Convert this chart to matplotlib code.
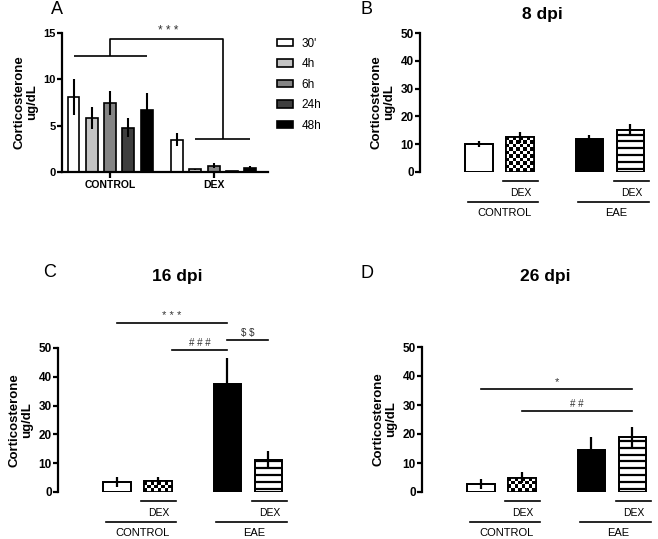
import numpy as np
import matplotlib
matplotlib.use("Agg")
import matplotlib.pyplot as plt
from matplotlib.transforms import blended_transform_factory

plt.rcParams['font.family'] = ['Liberation Sans', 'DejaVu Sans']

W, H = 658, 539

# ---- panel A data ----
timepoints = ["30'", "4h", "6h", "24h", "48h"]
tp_colors = ["white", "#c4c4c4", "#858585", "#3e3e3e", "black"]
a_groups = ["CONTROL", "DEX"]
a_control = [8.1, 5.8, 7.4, 4.8, 6.7]
a_control_err = [1.9, 1.2, 1.3, 1.0, 1.8]
a_dex = [3.5, 0.3, 0.7, 0.1, 0.45]
a_dex_err = [0.7, 0.05, 0.3, 0.03, 0.15]

# ---- panels B-D data (CONTROL, CONTROL+DEX, EAE, EAE+DEX) ----
dpi_titles = ["8 dpi", "16 dpi", "26 dpi"]
means_8 = [10.0, 12.5, 11.8, 15.0]
err_8 = [1.0, 2.0, 1.4, 2.2]
means_16 = [3.5, 3.8, 37.5, 11.2]
err_16 = [1.8, 1.3, 9.0, 3.0]
means_26 = [2.8, 5.0, 14.5, 19.0]
err_26 = [1.7, 1.8, 4.3, 3.5]

# significance: (from bar, to bar, height, label)
sig_16 = [(0, 2, 58.7, "* * *"), (1.2, 2, 49.3, "# # #"), (2, 3, 52.8, r"\$ \$")]
sig_26 = [(0, 3, 35.5, "*"), (1, 3, 28.0, "# #")]

fig = plt.figure(figsize=(W / 100, H / 100), dpi=100)


def px_axes(x0, y0, x1, y1):
    return fig.add_axes([x0 / W, 1 - y1 / H, (x1 - x0) / W, (y1 - y0) / H])


def style_left(ax, tick_size):
    for s in ["top", "right"]:
        ax.spines[s].set_visible(False)
    ax.spines["left"].set_linewidth(1.6)
    ax.tick_params(axis="y", width=1.6, length=3.5, labelsize=tick_size, pad=1)
    for t in ax.get_yticklabels():
        t.set_fontweight("bold")
    ax.set_ylabel("Corticosterone\nug/dL", fontsize=9.5, fontweight="bold",
                  labelpad=4, linespacing=1.0)


def sig_size(lab):
    return 8 if "*" in lab else 7


# ================= panel A =================
axA = px_axes(62, 33, 268, 172)
ctrl_x = np.arange(5) * 1.0
dex_x = ctrl_x + 5.66
for i in range(5):
    axA.bar(ctrl_x[i], a_control[i], width=0.65, color=tp_colors[i],
            edgecolor="black", linewidth=1.2, label=timepoints[i], zorder=2)
    axA.bar(dex_x[i], a_dex[i], width=0.65, color=tp_colors[i],
            edgecolor="black", linewidth=1.2, zorder=2)
axA.errorbar(ctrl_x, a_control, yerr=a_control_err, fmt="none",
             ecolor="black", elinewidth=1.5, capsize=0, zorder=3)
axA.errorbar(dex_x, a_dex, yerr=a_dex_err, fmt="none",
             ecolor="black", elinewidth=1.5, capsize=0, zorder=3)
axA.set_xlim(-0.63, 10.63)
axA.set_ylim(0, 15)
axA.set_yticks([0, 5, 10, 15])
axA.set_xticks([ctrl_x.mean(), dex_x.mean()])
axA.set_xticklabels(a_groups, fontsize=7.5, fontweight="bold")
axA.spines["bottom"].set_linewidth(1.6)
axA.tick_params(axis="x", width=1.6, length=4, pad=2)
style_left(axA, 8)

# bracket control vs dex
top = 14.4
c_mid = ctrl_x.mean()
d_mid = (dex_x[1] + dex_x[4]) / 2
kw = dict(color="black", lw=1.2, clip_on=False, solid_capstyle="butt")
axA.plot([ctrl_x[0], ctrl_x[4]], [12.5, 12.5], **kw)
axA.plot([c_mid, c_mid, d_mid, d_mid], [12.5, top, top, 3.6], **kw)
axA.plot([dex_x[1], dex_x[4]], [3.6, 3.6], **kw)
axA.text(5.2, top + 0.2, "* * *", ha="center", va="bottom", fontsize=8.5,
         color="#333333")

axA.legend(loc="upper left", bbox_to_anchor=(1.02, 1.0), frameon=False,
           fontsize=8.5, handlelength=1.4, handleheight=0.55,
           labelspacing=0.72, handletextpad=0.7, borderaxespad=0)


# ================= panels B-D =================
pos = np.array([1.0, 2.0, 3.7, 4.7])


def checker_bar(ax, bar):
    x0, y0 = bar.get_x(), bar.get_y()
    w, h = bar.get_width(), bar.get_height()
    p0 = ax.transData.transform((x0, y0))
    p1 = ax.transData.transform((x0 + w, y0 + h))
    nx = max(1, int(round((p1[0] - p0[0]) / 3.4)))
    ny = max(1, int(round((p1[1] - p0[1]) / 3.4)))
    board = (np.add.outer(np.arange(ny), np.arange(nx)) % 2).astype(float)
    im = ax.imshow(board, cmap="gray", extent=(x0, x0 + w, y0, y0 + h),
                   aspect="auto", interpolation="nearest", zorder=3)
    im.set_clip_path(bar)


def striped_bar(ax, bar, h_px):
    x0, w, h = bar.get_x(), bar.get_width(), bar.get_height()
    gap = 6.8 * 50 / h_px
    for y in np.arange(gap * 0.5, h, gap):
        ax.plot([x0, x0 + w], [y, y], color="black", lw=1.6, zorder=3,
                solid_capstyle="butt")


def condition_panel(box, means, errs, title, title_xy, sigs):
    x0, y0, x1, y1 = box
    h_px = y1 - y0
    ax = px_axes(*box)
    ax.set_xlim(-0.43, 5.2)
    ax.set_ylim(0, 50)
    fills = ["white", "white", "black", "white"]
    bars = ax.bar(pos, means, width=0.68, color=fills, edgecolor="black",
                  linewidth=1.3, zorder=2)
    checker_bar(ax, bars[1])
    striped_bar(ax, bars[3], h_px)
    # edges on top of the patterns
    ax.bar(pos, means, width=0.68, color="none", edgecolor="black",
           linewidth=1.3, zorder=4)
    ax.errorbar(pos, means, yerr=errs, fmt="none", ecolor="black",
                elinewidth=1.6, capsize=0, zorder=5)
    ax.set_xlim(-0.43, 5.2)
    ax.set_ylim(0, 50)
    ax.spines["bottom"].set_visible(False)
    ax.set_xticks([])
    ax.set_yticks([0, 10, 20, 30, 40, 50])
    style_left(ax, 8.5)

    tr = blended_transform_factory(ax.transData, ax.transAxes)
    lk = dict(color="black", lw=1.2, clip_on=False, transform=tr)
    d1 = -9 / h_px
    t1 = -21 / h_px
    d2 = -30 / h_px
    t2 = -41 / h_px
    for b in (1, 3):
        ax.plot([pos[b] - 0.4, pos[b] + 0.45], [d1, d1], **lk)
        ax.text(pos[b] + 0.02, t1, "DEX", transform=tr, ha="center",
                va="center", fontsize=7.5)
    for (a, b), name in zip([(0, 1), (2, 3)], ["CONTROL", "EAE"]):
        ax.plot([pos[a] - 0.27, pos[b] + 0.45], [d2, d2], **lk)
        ax.text((pos[a] - 0.27 + pos[b] + 0.45) / 2 + 0.05, t2, name,
                transform=tr, ha="center", va="center", fontsize=8)

    for a, b, y, lab in sigs:
        xa = np.interp(a, [0, 1, 2, 3], pos)
        xb = np.interp(b, [0, 1, 2, 3], pos)
        ax.plot([xa, xb], [y, y], color="black", lw=1.2, clip_on=False)
        ax.text((xa + xb) / 2, y + 0.6, lab, ha="center", va="bottom",
                fontsize=sig_size(lab), color="#333333", clip_on=False)

    fig.text(title_xy[0] / W, 1 - title_xy[1] / H, title, ha="center",
             va="center", fontsize=12.5, fontweight="bold")
    return ax


condition_panel((420, 33, 651, 172), means_8, err_8, dpi_titles[0],
                (542, 14), [])
condition_panel((58, 348, 289, 492), means_16, err_16, dpi_titles[1],
                (177, 277), sig_16)
condition_panel((422, 347, 653, 492), means_26, err_26, dpi_titles[2],
                (545, 277), sig_26)

for lab, x, y in [("A", 57, 10), ("B", 366, 9), ("C", 50, 273), ("D", 367, 274)]:
    fig.text(x / W, 1 - y / H, lab, ha="center", va="center", fontsize=13)

fig.savefig("out.png", dpi=100)
